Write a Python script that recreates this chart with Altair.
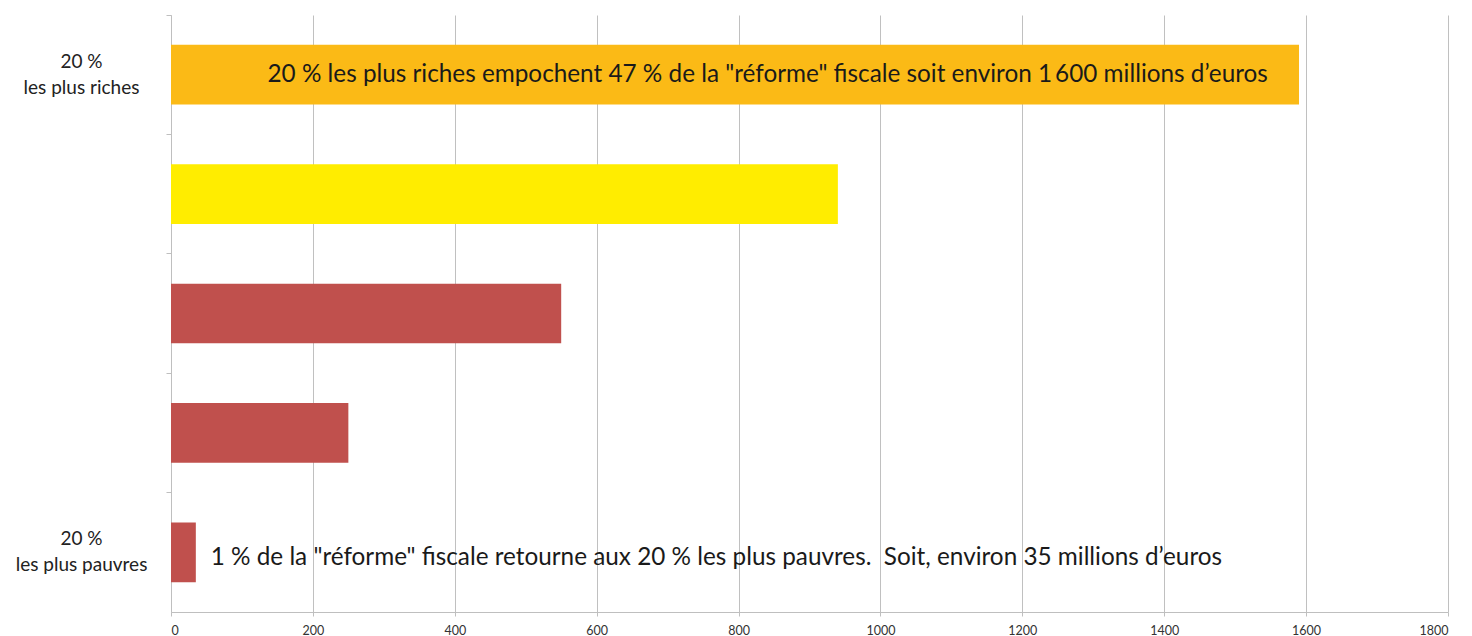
import altair as alt
import pandas as pd

categories = ["20 %|les plus riches", "q4", "q3", "q2", "20 %|les plus pauvres"]
values = [1590, 940, 550, 250, 35]
colors = ["#FBBA16", "#FFED00", "#C0504D", "#C0504D", "#C0504D"]
x_ticks = [0, 200, 400, 600, 800, 1000, 1200, 1400, 1600, 1800]

notes = [
    '20 % les plus riches empochent 47 % de la "réforme" fiscale soit environ 1\u2009600 millions d\u2019euros',
    '1 % de la "réforme" fiscale retourne aux 20 % les plus pauvres.\u00a0 Soit, environ 35 millions d\u2019euros',
]
note_cat = ["20 %|les plus riches", "20 %|les plus pauvres"]
note_x = [136, 56]

df = pd.DataFrame({"cat": categories, "val": values, "col": colors})
notes_df = pd.DataFrame({"cat": note_cat, "x": note_x, "txt": notes})

FONT = "Lato"

yenc = alt.Y(
    "cat:N",
    sort=categories,
    scale=alt.Scale(paddingInner=0, paddingOuter=0),
    axis=alt.Axis(
        title=None,
        labelExpr="indexof(datum.value, '|') >= 0 ? split(datum.value, '|') : ''",
        labelFont=FONT,
        labelFontSize=19,
        labelColor="#222222",
        labelAlign="center",
        labelPadding=85,
        labelLineHeight=26,
        labelOffset=-13,
        bandPosition=0,
        tickColor="#BFBFBF",
        tickSize=5,
        domainColor="#BFBFBF",
        grid=False,
    ),
)

xscale = alt.Scale(domain=[0, 1800], nice=False)

bars = alt.Chart(df).mark_bar(height={"band": 0.5}).encode(
    x=alt.X(
        "val:Q",
        scale=xscale,
        axis=alt.Axis(
            title=None,
            values=x_ticks,
            format="d",
            labelFont=FONT,
            labelFontSize=12.5,
            labelColor="#333333",
            labelPadding=8,
            tickColor="#BFBFBF",
            tickSize=4,
            domainColor="#BFBFBF",
            gridColor="#C0C0C0",
            grid=True,
        ),
    ),
    y=yenc,
    color=alt.Color("col:N", scale=None, legend=None),
)

def note_layer(idx, dy):
    return alt.Chart(notes_df).transform_filter(
        alt.datum.cat == note_cat[idx]
    ).mark_text(
        align="left", baseline="middle", font=FONT, fontSize=24.3, color="#1a1a1a", dy=dy
    ).encode(
        x=alt.X("x:Q", scale=xscale),
        y=alt.Y("cat:N", sort=categories),
        text="txt:N",
    )

chart = (
    (bars + note_layer(0, 0) + note_layer(1, 6))
    .properties(
        width=1277,
        height=597,
        padding={"left": 7, "top": 6, "right": 5, "bottom": 5},
    )
    .configure_view(stroke=None)
)

chart.save("out.html", embed_options={"renderer": "svg", "actions": False})
